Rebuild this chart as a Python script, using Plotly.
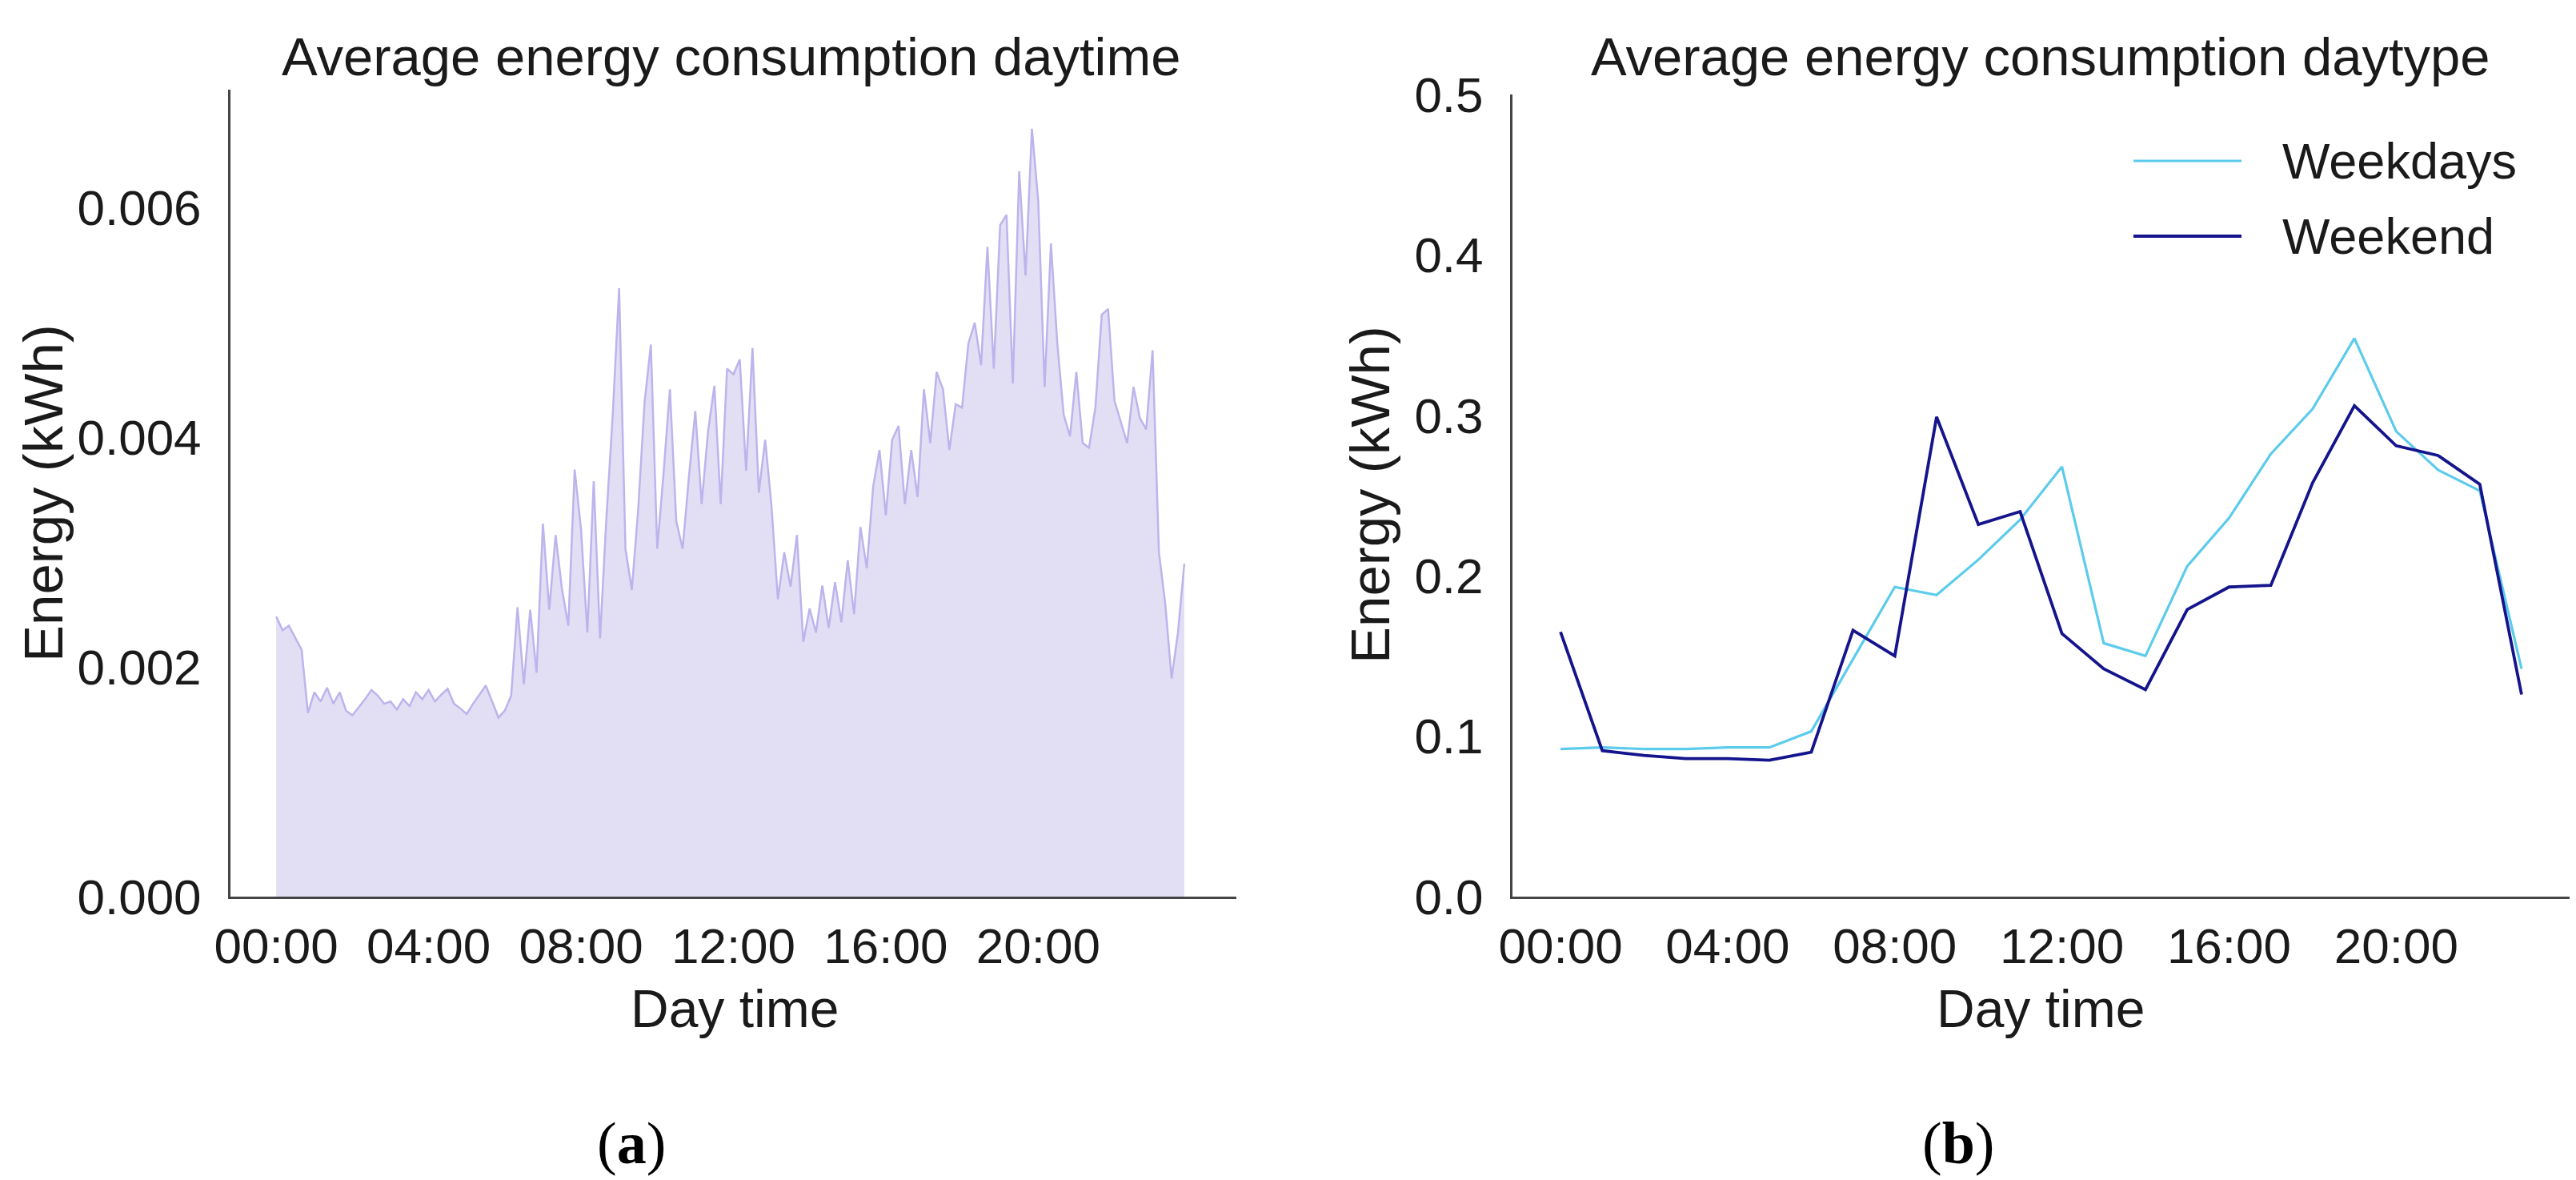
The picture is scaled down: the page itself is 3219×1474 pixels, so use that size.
import plotly.graph_objects as go

# ---------------- data ----------------
# (a) average energy per 10-minute slot over the day (kWh)
slot_minutes = list(range(0, 1440, 10))
daytime_energy = [
    0.00244, 0.00232, 0.00236, 0.00226, 0.00215, 0.00160,
    0.00178, 0.00170, 0.00182, 0.00168, 0.00178, 0.00162,
    0.00158, 0.00165, 0.00172, 0.00180, 0.00175, 0.00168,
    0.00170, 0.00163, 0.00172, 0.00166, 0.00178, 0.00172,
    0.00180, 0.00170, 0.00176, 0.00181, 0.00168, 0.00164,
    0.00159, 0.00168, 0.00176, 0.00184, 0.00170, 0.00156,
    0.00162, 0.00175, 0.00252, 0.00185, 0.00250, 0.00195,
    0.00325, 0.00250, 0.00315, 0.00268, 0.00236, 0.00372,
    0.00320, 0.00230, 0.00362, 0.00225, 0.00330, 0.00420,
    0.00530, 0.00303, 0.00267, 0.00337, 0.00430, 0.00481,
    0.00303, 0.00369, 0.00442, 0.00327, 0.00303, 0.00366,
    0.00423, 0.00342, 0.00405, 0.00445, 0.00342, 0.00460,
    0.00455, 0.00468, 0.00371, 0.00478, 0.00352, 0.00398,
    0.00340, 0.00259, 0.00300, 0.00270, 0.00315, 0.00222,
    0.00251, 0.00230, 0.00271, 0.00234, 0.00274, 0.00239,
    0.00293, 0.00246, 0.00322, 0.00286, 0.00357, 0.00389,
    0.00332, 0.00398, 0.00410, 0.00342, 0.00389, 0.00348,
    0.00442, 0.00395, 0.00457, 0.00442, 0.00389, 0.00429,
    0.00426, 0.00482, 0.00500, 0.00463, 0.00566, 0.00460,
    0.00585, 0.00594, 0.00447, 0.00632, 0.00541, 0.00669,
    0.00606, 0.00444, 0.00569, 0.00482, 0.00420, 0.00401,
    0.00457, 0.00395, 0.00391, 0.00426, 0.00507, 0.00512,
    0.00432, 0.00413, 0.00395, 0.00444, 0.00417, 0.00407,
    0.00476, 0.00300, 0.00255, 0.00190, 0.00230, 0.00290,
]

# (b) hourly averages by day type (kWh)
hours = list(range(24))
weekdays = [0.092, 0.093, 0.092, 0.092, 0.093, 0.093, 0.103, 0.148, 0.193, 0.188,
            0.210, 0.235, 0.268, 0.158, 0.150, 0.206, 0.236, 0.276, 0.304, 0.348,
            0.290, 0.266, 0.253, 0.142]
weekend = [0.165, 0.091, 0.088, 0.086, 0.086, 0.085, 0.090, 0.166, 0.150, 0.299,
           0.232, 0.240, 0.164, 0.142, 0.129, 0.179, 0.193, 0.194, 0.258, 0.306,
           0.281, 0.275, 0.257, 0.126]

tick_hours = [0, 4, 8, 12, 16, 20]
tick_text = ["00:00", "04:00", "08:00", "12:00", "16:00", "20:00"]
left_yticks = [0.0, 0.002, 0.004, 0.006]
right_yticks = [0.0, 0.1, 0.2, 0.3, 0.4, 0.5]

titles = ["Average energy consumption daytime", "Average energy consumption daytype"]
x_title = "Day time"
y_title = "Energy (kWh)"
panel_labels = ["(<b>a</b>)", "(<b>b</b>)"]
series_names = ["Weekdays", "Weekend"]

# ---------------- style ----------------
W, H = 3219, 1474
FONT = "Liberation Sans, Arial, sans-serif"
TXT = "#1a1a1a"
AX = "#444444"
C_WD = "#5ccbec"
C_WE = "#14148c"

fig = go.Figure()

fig.add_trace(go.Scatter(
    x=[m / 60 for m in slot_minutes], y=daytime_energy,
    mode="lines", fill="tozeroy",
    line=dict(color="#bcb4ec", width=2.5),
    fillcolor="#e2dff5",
    showlegend=False, xaxis="x", yaxis="y",
))

fig.add_trace(go.Scatter(
    x=hours, y=weekdays, mode="lines", name=series_names[0],
    line=dict(color=C_WD, width=3.2), showlegend=False, xaxis="x2", yaxis="y2",
))
fig.add_trace(go.Scatter(
    x=hours, y=weekend, mode="lines", name=series_names[1],
    line=dict(color=C_WE, width=3.8), showlegend=False, xaxis="x2", yaxis="y2",
))

ybot = 1 - 1112 / H

common_x = dict(
    tickvals=tick_hours, ticktext=tick_text, showgrid=False, zeroline=False,
    showline=True, linecolor=AX, linewidth=3, automargin=False,
    ticks="outside", ticklen=6, tickcolor="rgba(0,0,0,0)",
    tickfont=dict(family=FONT, size=62, color=TXT),
)
common_y = dict(
    showgrid=False, zeroline=False, showline=True, linecolor=AX, linewidth=3,
    automargin=False,
    ticks="outside", ticklen=21, tickcolor="rgba(0,0,0,0)",
    tickfont=dict(family=FONT, size=62, color=TXT),
)

fig.update_layout(
    width=W, height=H,
    margin=dict(l=0, r=0, t=0, b=0),
    paper_bgcolor="white", plot_bgcolor="white",
    xaxis=dict(common_x, domain=[280 / W, 1537 / W], range=[-1.2, 25.2], anchor="y"),
    yaxis=dict(common_y, domain=[ybot, 1 - 104 / H], range=[0, 0.00703],
               tickvals=left_yticks, tickformat=".3f", anchor="x"),
    xaxis2=dict(common_x, domain=[1882 / W, 3203 / W], range=[-1.15, 24.15], anchor="y2"),
    yaxis2=dict(common_y, domain=[ybot, 1 - 110 / H], range=[0, 0.5],
                tickvals=right_yticks, tickformat=".1f", anchor="x2"),
)

ann = []
for cx, t in zip([906, 2542], titles):
    ann.append(dict(x=cx / W, y=1 - 62 / H, xref="paper", yref="paper", text=t,
                    showarrow=False, xanchor="center", yanchor="middle",
                    font=dict(family=FONT, size=67, color=TXT)))
# axis titles
for cx in [910, 2542]:
    ann.append(dict(x=cx / W, y=1 - 1252 / H, xref="paper", yref="paper", text=x_title,
                    showarrow=False, xanchor="center", yanchor="middle",
                    font=dict(family=FONT, size=66, color=TXT)))
for cx, cy in [(46, 608), (1704, 610)]:
    ann.append(dict(x=cx / W, y=1 - cy / H, xref="paper", yref="paper", text=y_title,
                    showarrow=False, xanchor="center", yanchor="middle", textangle=-90,
                    font=dict(family=FONT, size=69, color=TXT)))
for cx, t in zip([781, 2439], panel_labels):
    ann.append(dict(x=cx / W, y=1 - 1420 / H, xref="paper", yref="paper", text=t,
                    showarrow=False, xanchor="center", yanchor="middle",
                    font=dict(family="Liberation Serif, Times New Roman, serif", size=74, color="black")))

# legend drawn in the top-right of panel (b)
shapes = []
for yy, col, lw, name in zip([193, 287], [C_WD, C_WE], [3.2, 3.8], series_names):
    shapes.append(dict(type="line", xref="paper", yref="paper",
                       x0=2658 / W, x1=2793 / W, y0=1 - yy / H, y1=1 - yy / H,
                       line=dict(color=col, width=lw)))
    ann.append(dict(x=2842 / W, y=1 - yy / H, xref="paper", yref="paper", text=name,
                    showarrow=False, xanchor="left", yanchor="middle",
                    font=dict(family=FONT, size=63, color=TXT)))

fig.update_layout(annotations=ann, shapes=shapes)

fig.write_html("out.html")
